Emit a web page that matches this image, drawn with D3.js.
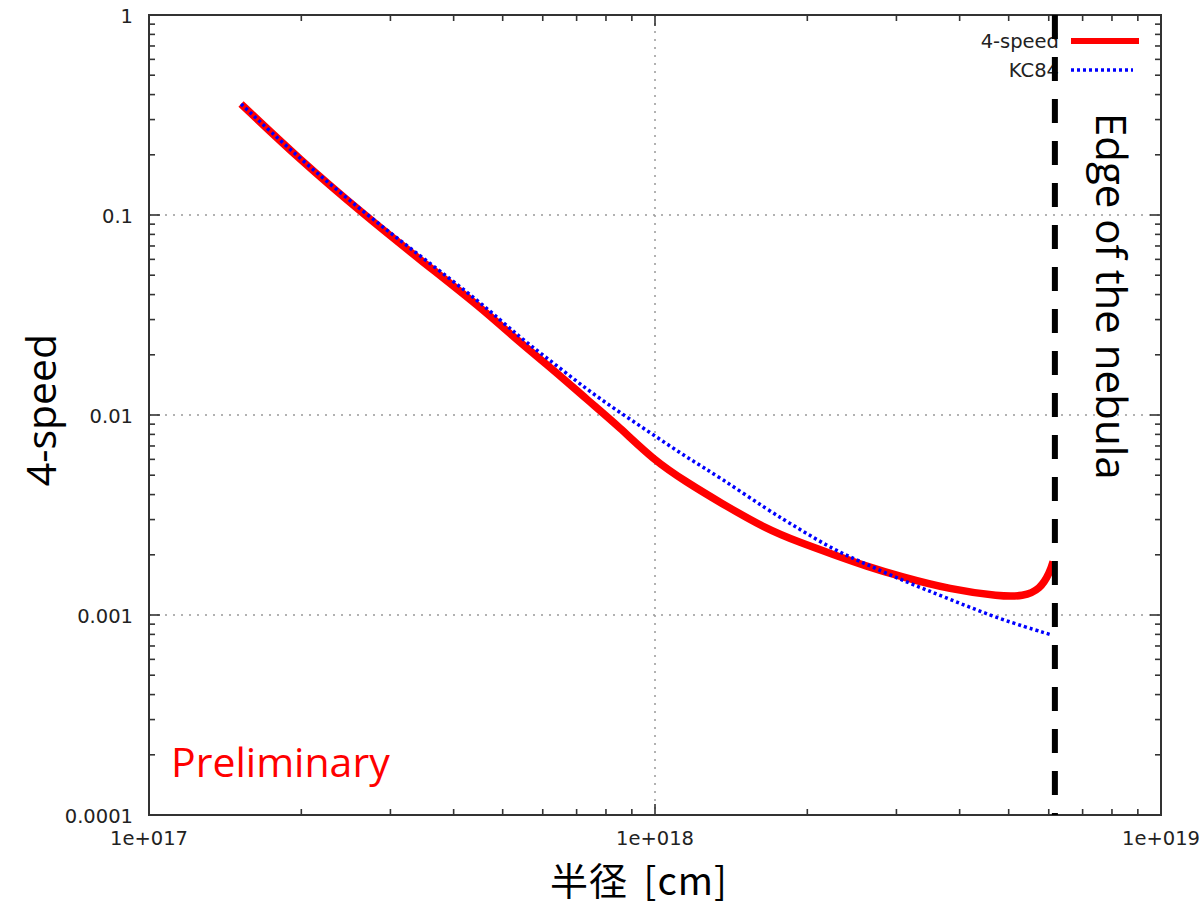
<!DOCTYPE html>
<html><head><meta charset="utf-8">
<script src="https://cdn.jsdelivr.net/npm/d3@7"></script>
<style>body{margin:0;background:#fff}</style>
</head><body>
<svg id="c" width="1201" height="905"></svg>
<script>
// Data
const speedR = [1.52e17,1.988e17,2.648e17,3.433e17,4.51e17,5.41e17,6.29e17,7.34e17,8.53e17,9.91e17,1.157e18,1.345e18,1.665e18,1.935e18,2.248e18,2.624e18,3.05e18,3.83e18,4.81e18,5.34e18,5.77e18,6.03e18,6.12e18];
const speedV = [0.359,0.1887,0.1014,0.0597,0.03478,0.02299,0.01686,0.01194,0.00865,0.005987,0.004597,0.003652,0.002677,0.002305,0.002008,0.001749,0.001559,0.001342,0.001238,0.001238,0.001342,0.001633,0.001852];
const kcR = [1.52e17,1.988e17,2.648e17,3.433e17,4.51e17,5.41e17,6.29e17,7.34e17,8.53e17,9.91e17,1.157e18,1.345e18,1.665e18,1.935e18,2.248e18,2.624e18,3.05e18,3.83e18,4.81e18,6.03e18];
const kcV = [0.359,0.1905,0.1038,0.0625,0.03684,0.02435,0.01827,0.01339,0.01028,0.00798,0.006126,0.004868,0.003369,0.002677,0.002127,0.001789,0.001506,0.001197,0.000951,0.000800];
const edgeR = 6.17e18;
const xTickLabels = ["1e+017","1e+018","1e+019"];
const yTickLabels = ["1","0.1","0.01","0.001","0.0001"];
const seriesNames = ["4-speed","KC84"];

const svg = d3.select("#c");
const L=149, R=1161, T=15, B=815;
const x = d3.scaleLog().domain([1e17,1e19]).range([L,R]);
const y = d3.scaleLog().domain([1e-4,1]).range([B,T]);

// grid
const g = svg.append("g");
[1e18].forEach(v=>g.append("line").attr("x1",x(v)).attr("x2",x(v)).attr("y1",T).attr("y2",B)
  .attr("stroke","#999").attr("stroke-width",1.5).attr("stroke-dasharray","2,6"));
[0.1,0.01,0.001].forEach(v=>g.append("line").attr("x1",L).attr("x2",R).attr("y1",y(v)).attr("y2",y(v))
  .attr("stroke","#999").attr("stroke-width",1.5).attr("stroke-dasharray","2,6"));

// ticks (inward, mirrored)
const tk = svg.append("g").attr("stroke","#333").attr("stroke-width",1.6);
function minorList(lo,hi){const a=[];for(let e=lo;e<hi;e++){for(let m=2;m<=9;m++)a.push(m*Math.pow(10,e));}return a;}
const xMaj=[1e17,1e18,1e19], yMaj=[1e-4,1e-3,1e-2,1e-1,1];
xMaj.forEach(v=>{tk.append("line").attr("x1",x(v)).attr("x2",x(v)).attr("y1",B).attr("y2",B-11);
  tk.append("line").attr("x1",x(v)).attr("x2",x(v)).attr("y1",T).attr("y2",T+11);});
minorList(17,19).forEach(v=>{tk.append("line").attr("x1",x(v)).attr("x2",x(v)).attr("y1",B).attr("y2",B-6);
  tk.append("line").attr("x1",x(v)).attr("x2",x(v)).attr("y1",T).attr("y2",T+6);});
yMaj.forEach(v=>{tk.append("line").attr("x1",L).attr("x2",L+11).attr("y1",y(v)).attr("y2",y(v));
  tk.append("line").attr("x1",R).attr("x2",R-11).attr("y1",y(v)).attr("y2",y(v));});
minorList(-4,0).forEach(v=>{tk.append("line").attr("x1",L).attr("x2",L+6).attr("y1",y(v)).attr("y2",y(v));
  tk.append("line").attr("x1",R).attr("x2",R-6).attr("y1",y(v)).attr("y2",y(v));});

// frame
svg.append("rect").attr("x",L).attr("y",T).attr("width",R-L).attr("height",B-T)
  .attr("fill","none").attr("stroke","#333").attr("stroke-width",2);

// tick labels
const tf = "DejaVu Sans, Verdana, sans-serif";
xMaj.forEach((v,i)=>svg.append("text").attr("x",x(v)).attr("y",845).attr("text-anchor","middle")
  .attr("font-family",tf).attr("font-size",19.5).attr("fill","#222").text(xTickLabels[i]));
yMaj.slice().reverse().forEach((v,i)=>svg.append("text").attr("x",133).attr("y",y(v)+8).attr("text-anchor","end")
  .attr("font-family",tf).attr("font-size",19.5).attr("fill","#222").text(yTickLabels[i]));

// curves
const line = d3.line().x(d=>x(d[0])).y(d=>y(d[1])).curve(d3.curveBasis);
svg.append("path").attr("d",line(d3.zip(speedR,speedV))).attr("fill","none")
  .attr("stroke","#ff0000").attr("stroke-width",7.5).attr("stroke-linejoin","round");
svg.append("path").attr("d",line(d3.zip(kcR,kcV))).attr("fill","none")
  .attr("stroke","#0000ff").attr("stroke-width",3.5).attr("stroke-dasharray","3,3");

// legend
svg.append("text").attr("x",1059).attr("y",48).attr("text-anchor","end").attr("font-family",tf)
  .attr("font-size",19.5).attr("fill","#222").text(seriesNames[0]);
svg.append("line").attr("x1",1071).attr("x2",1139).attr("y1",41).attr("y2",41).attr("stroke","#ff0000").attr("stroke-width",6);
svg.append("text").attr("x",1059).attr("y",77).attr("text-anchor","end").attr("font-family",tf)
  .attr("font-size",19.5).attr("fill","#222").text(seriesNames[1]);
svg.append("line").attr("x1",1071).attr("x2",1133).attr("y1",70).attr("y2",70).attr("stroke","#0000ff").attr("stroke-width",3.5).attr("stroke-dasharray","3,3");

// edge line
svg.append("line").attr("x1",x(edgeR)).attr("x2",x(edgeR)).attr("y1",T).attr("y2",B)
  .attr("stroke","#000").attr("stroke-width",6).attr("stroke-dasharray","24,18");

// big labels
const bf = "'Open Sans', 'Noto Sans', sans-serif";
svg.append("text").attr("transform","translate(1096,113) rotate(90)").attr("font-family",bf)
  .attr("font-size",42).attr("fill","#000").text("Edge of the nebula");
svg.append("text").attr("transform","translate(56,410) rotate(-90)").attr("text-anchor","middle").attr("font-family",bf)
  .attr("font-size",41).attr("fill","#000").text("4-speed");
svg.append("text").attr("x",171).attr("y",777).attr("font-family",bf)
  .attr("font-size",41).attr("fill","#ff0000").text("Preliminary");
svg.append("text").attr("x",639).attr("y",894.5).attr("text-anchor","middle").attr("font-family","'Noto Sans CJK JP', 'Noto Sans', sans-serif")
  .attr("font-size",38).attr("fill","#000").attr("word-spacing",6).attr("letter-spacing",1).text("半径 [cm]");
</script>
</body></html>
